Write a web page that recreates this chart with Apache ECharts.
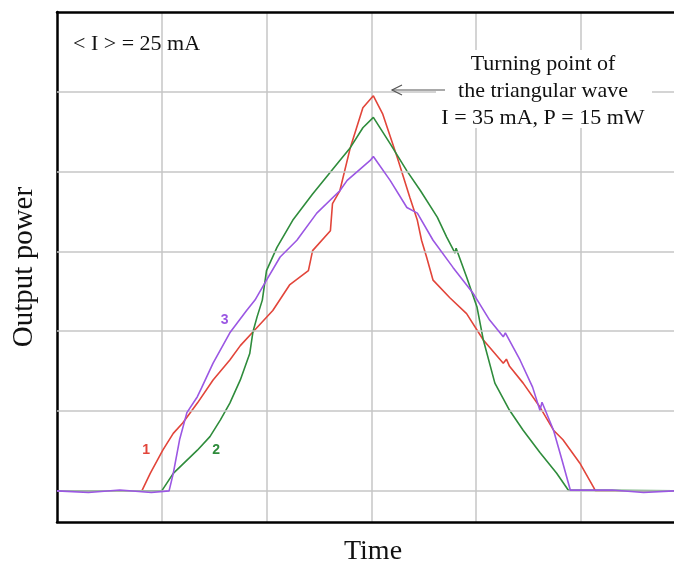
<!DOCTYPE html>
<html>
<head>
<meta charset="utf-8">
<script src="https://cdn.jsdelivr.net/npm/echarts@6/dist/echarts.min.js"></script>
<style>
html,body{margin:0;padding:0;background:#fff;}
#chart{width:674px;height:562px;}
</style>
</head>
<body>
<div id="chart"></div>
<script>
// Data (time units = grid divisions, power units = grid divisions above the baseline)
const curve1 = [[0,0],[0.81,0],[0.89,0.22],[1.01,0.51],[1.11,0.72],[1.20,0.85],[1.34,1.10],[1.49,1.39],[1.65,1.64],[1.75,1.82],[1.87,1.99],[2.06,2.26],[2.22,2.58],[2.40,2.76],[2.44,3.01],[2.61,3.26],[2.63,3.60],[2.70,3.76],[2.80,4.30],[2.92,4.80],[3.02,4.95],[3.11,4.72],[3.25,4.17],[3.37,3.67],[3.44,3.39],[3.48,3.14],[3.53,2.92],[3.59,2.64],[3.75,2.42],[3.91,2.22],[4.07,1.89],[4.26,1.60],[4.29,1.65],[4.32,1.56],[4.45,1.35],[4.61,1.05],[4.74,0.76],[4.83,0.64],[4.99,0.35],[5.12,0.05],[5.14,0],[5.89,0]];
const curve2 = [[0,0],[1.00,0],[1.11,0.22],[1.34,0.51],[1.46,0.68],[1.56,0.89],[1.65,1.10],[1.75,1.39],[1.84,1.72],[1.87,1.99],[1.91,2.18],[1.96,2.39],[2.00,2.76],[2.10,3.05],[2.25,3.39],[2.44,3.72],[2.70,4.14],[2.80,4.30],[2.92,4.55],[3.02,4.68],[3.18,4.35],[3.34,4.01],[3.47,3.76],[3.63,3.43],[3.72,3.18],[3.80,2.98],[3.81,3.04],[3.91,2.68],[4.01,2.30],[4.07,1.89],[4.18,1.35],[4.32,1.01],[4.45,0.76],[4.61,0.48],[4.77,0.22],[4.88,0.01],[5.89,0]];
const curve3 = [[0,0],[0.3,-0.02],[0.6,0.01],[0.9,-0.02],[1.07,0],[1.11,0.22],[1.17,0.64],[1.24,0.98],[1.34,1.18],[1.38,1.29],[1.49,1.60],[1.65,1.98],[1.81,2.26],[1.89,2.39],[2.00,2.64],[2.13,2.93],[2.29,3.14],[2.48,3.48],[2.70,3.76],[2.77,3.89],[2.99,4.14],[3.02,4.19],[3.18,3.89],[3.34,3.55],[3.44,3.48],[3.59,3.14],[3.78,2.80],[3.97,2.48],[4.13,2.14],[4.26,1.93],[4.28,1.98],[4.42,1.64],[4.54,1.30],[4.61,1.01],[4.63,1.11],[4.74,0.76],[4.82,0.39],[4.90,0.01],[5.3,0.01],[5.6,-0.02],[5.89,0]];
const seriesNames = ['1','2','3'];
const labelPositions = [[0.85,0.51],[1.52,0.51],[1.60,2.14]];
const yGridValues = [0,1,2,3,4,5];
const xRange = [0, 5.89];
const yRange = [-0.39, 6.0];

const colors = ['#e2453a','#2f8c3c','#9b57e3'];
const curves = [curve1, curve2, curve3];
const serif = 'Liberation Serif';

const chart = echarts.init(document.getElementById('chart'), null, {renderer:'canvas'});

const series = [{
  type:'line', data:[], silent:true, z:1,
  markLine:{
    silent:true, symbol:'none', animation:false,
    label:{show:false},
    lineStyle:{color:'#c6c6c6', width:1.5, type:'solid'},
    data: yGridValues.map(v => ({yAxis:v}))
  }
}];
curves.forEach((c,i) => {
  series.push({
    name: seriesNames[i], type:'line', data:c, showSymbol:false, symbol:'none',
    z: 3+i, animation:false,
    lineStyle:{color:colors[i], width:1.6},
    markPoint:{
      symbol:'circle', symbolSize:1, itemStyle:{color:'rgba(0,0,0,0)'},
      animation:false,
      label:{show:true, formatter:seriesNames[i], color:colors[i], fontFamily:'Liberation Sans', fontWeight:'bold', fontSize:14},
      data:[{coord:labelPositions[i]}]
    }
  });
});

chart.setOption({
  backgroundColor:'#fff',
  animation:false,
  grid:{left:57, top:12, right:0, bottom:40, containLabel:false, outerBoundsMode:'none'},
  xAxis:[{
    type:'value', min:xRange[0], max:xRange[1], interval:1, position:'bottom',
    name:'Time', nameLocation:'middle', nameGap:16,
    nameTextStyle:{fontFamily:serif, fontSize:28, color:'#111', padding:[0,0,0,15]},
    axisLine:{show:true, onZero:false, lineStyle:{color:'#000', width:2.5}},
    axisTick:{show:false}, axisLabel:{show:false},
    splitLine:{show:true, showMinLine:false, showMaxLine:false, lineStyle:{color:'#c6c6c6', width:1.5}}
  },{
    type:'value', min:xRange[0], max:xRange[1], position:'top',
    axisLine:{show:true, onZero:false, lineStyle:{color:'#000', width:2.5}},
    axisTick:{show:false}, axisLabel:{show:false}, splitLine:{show:false}
  }],
  yAxis:{
    type:'value', min:yRange[0], max:yRange[1],
    name:'Output power', nameLocation:'middle', nameGap:18, nameRotate:90,
    nameTextStyle:{fontFamily:serif, fontSize:29, color:'#111'},
    axisLine:{show:true, onZero:false, lineStyle:{color:'#000', width:2.5}},
    axisTick:{show:false}, axisLabel:{show:false}, splitLine:{show:false}
  },
  series: series,
  graphic:[
    {type:'text', left:73, top:33, z:10,
     style:{text:'< I > = 25 mA', fontFamily:serif, fontSize:22, fill:'#111'}},
    {type:'rect', shape:{x:436, y:50, width:216, height:78}, style:{fill:'#fff'}, z:9, silent:true},
    {type:'text', x:543, y:51, z:10,
     style:{text:'Turning point of\nthe triangular wave\nI = 35 mA, P = 15 mW', fontFamily:serif, fontSize:22, lineHeight:27, fill:'#111', align:'center', verticalAlign:'top'}},
    {type:'line', shape:{x1:445, y1:90, x2:392, y2:90}, style:{stroke:'#555', lineWidth:1.2}, z:10},
    {type:'polyline', shape:{points:[[402,85],[392,90],[402,95]]}, style:{stroke:'#555', lineWidth:1.2, fill:null}, z:10}
  ]
});
</script>
</body>
</html>
